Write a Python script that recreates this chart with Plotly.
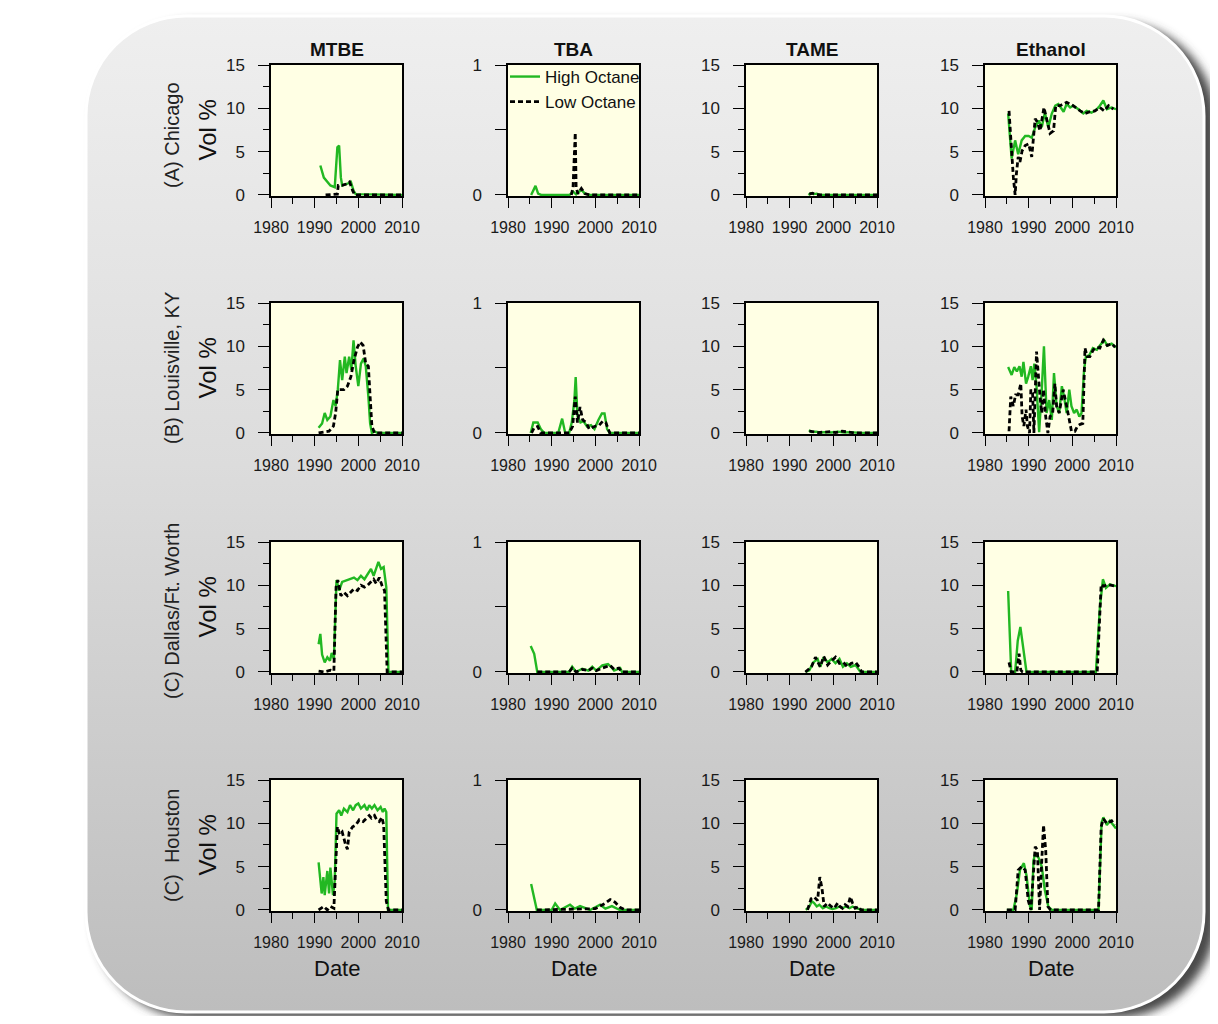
import base64
import plotly.graph_objects as go

# ---------------- DATA ----------------
COLUMNS = ["MTBE", "TBA", "TAME", "Ethanol"]
ROWS = ["(A) Chicago", "(B) Louisville, KY", "(C) Dallas/Ft. Worth", "(C)  Houston"]
X_TICKS = [1980, 1990, 2000, 2010]
Y_TICKS = [0, 5, 10, 15]
TBA_TICKS = [0, 0.5, 1]
TBA_TICKTEXT = ["0", "", "1"]

# Chicago
chi_mtbe_hi_x = [1991.3, 1992.1, 1993.6, 1994.6, 1995.2, 1995.6, 1996.0, 1996.3, 1997.5, 1998.3, 1998.9, 1999.4, 2010]
chi_mtbe_hi_y = [3.4, 2.0, 1.1, 0.9, 5.5, 5.7, 2.0, 1.1, 1.3, 1.5, 0.5, 0.1, 0.0]
chi_mtbe_lo_x = [1992.5, 1995.2, 1995.4, 1996.3, 1997.5, 1998.0, 1998.7, 1999.2, 2010]
chi_mtbe_lo_y = [0.0, 0.1, 1.1, 1.1, 1.3, 1.5, 0.5, 0.0, 0.0]
chi_tba_hi_x = [1985.3, 1985.9, 1986.3, 1986.9, 1987.6, 1994.1, 1994.9, 1995.6, 1996.8, 1997.6, 1998.7, 2010]
chi_tba_hi_y = [0.0, 0.05, 0.07, 0.01, 0.0, 0.0, 0.025, 0.005, 0.04, 0.01, 0.0, 0.0]
chi_tba_lo_x = [1994.5, 1994.9, 1995.4, 1995.6, 1996.0, 1996.8, 1997.6, 1998.7, 2010]
chi_tba_lo_y = [0.0, 0.06, 0.48, 0.06, 0.01, 0.05, 0.01, 0.0, 0.0]
chi_tame_hi_x = [1994.3, 1994.8, 1995.5, 1996.2, 1997.0, 2010]
chi_tame_hi_y = [0.0, 0.2, 0.1, 0.15, 0.0, 0.0]
chi_tame_lo_x = [1994.5, 1995.2, 1996.0, 1997.0, 2010]
chi_tame_lo_y = [0.1, 0.2, 0.05, 0.0, 0.0]
chi_eth_hi_x = [1985.3, 1986.1, 1986.9, 1987.6, 1988.4, 1989.2, 1990.0, 1990.7, 1991.5, 1992.3, 1993.0, 1993.7,
                1994.5, 1995.3, 1996.1, 1996.8, 1998.0, 1998.7, 1999.5, 2000.2, 2001.4, 2002.5, 2003.3, 2004.4,
                2005.6, 2006.3, 2007.1, 2007.9, 2009.0, 2010.0]
chi_eth_hi_y = [9.4, 4.2, 6.3, 4.7, 6.3, 6.8, 6.8, 6.6, 7.8, 8.6, 7.8, 9.5, 7.8, 9.4, 10.3, 10.5, 9.6, 10.5,
                10.1, 10.3, 9.9, 9.4, 9.7, 9.5, 9.9, 10.3, 10.9, 9.9, 10.1, 9.9]
chi_eth_lo_x = [1985.5, 1986.1, 1986.5, 1986.9, 1987.2, 1987.6, 1988.0, 1988.5, 1989.2, 1990.0, 1990.7, 1991.5,
                1992.0, 1992.6, 1993.5, 1994.2, 1994.9, 1995.7, 1996.2, 1997.2, 1998.7, 2000.2, 2001.8, 2002.9,
                2004.0, 2005.2, 2006.3, 2007.3, 2008.3, 2009.4]
chi_eth_lo_y = [9.7, 4.4, 2.0, 0.0, 2.5, 4.4, 3.8, 5.1, 5.7, 5.9, 4.4, 8.8, 8.4, 7.4, 10.1, 8.6, 7.1, 7.4,
                10.3, 10.3, 10.7, 10.3, 9.7, 9.4, 9.6, 9.7, 10.1, 9.7, 10.3, 9.9]

# Louisville
lou_mtbe_hi_x = [1990.9, 1991.7, 1992.3, 1992.9, 1993.6, 1994.3, 1994.8, 1995.3, 1995.8, 1996.3, 1996.9, 1997.3,
                 1997.9, 1998.4, 1998.9, 1999.4, 2000.0, 2000.6, 2001.2, 2001.7, 2002.3, 2002.7, 2003.1, 2003.7,
                 2004.4, 2010]
lou_mtbe_hi_y = [0.6, 1.1, 2.3, 1.5, 1.9, 3.8, 3.1, 5.0, 8.4, 6.1, 8.8, 6.9, 8.8, 7.3, 10.7, 7.7, 5.4, 8.0,
                 8.6, 7.7, 4.2, 1.1, 0.0, 0.2, 0.0, 0.0]
lou_mtbe_lo_x = [1990.9, 1993.3, 1994.3, 1994.8, 1995.3, 1996.7, 1997.5, 1998.3, 1999.0, 1999.8, 2000.4, 2001.1,
                 2001.7, 2002.3, 2002.7, 2003.1, 2003.7, 2010]
lou_mtbe_lo_y = [0.0, 0.2, 0.8, 2.3, 5.0, 5.0, 5.4, 6.5, 8.4, 9.9, 10.5, 10.1, 8.0, 7.7, 4.2, 0.8, 0.0, 0.0]
lou_tba_hi_x = [1985.2, 1985.8, 1986.8, 1987.5, 1988.3, 1991.5, 1992.4, 1993.1, 1994.0, 1994.6, 1995.2, 1995.5,
                1995.9, 1996.6, 1997.3, 1998.1, 1999.0, 1999.8, 2000.7, 2001.5, 2002.1, 2002.7, 2003.3, 2010]
lou_tba_hi_y = [0.0, 0.08, 0.08, 0.03, 0.0, 0.0, 0.11, 0.0, 0.0, 0.08, 0.25, 0.43, 0.13, 0.08, 0.09, 0.05,
                0.06, 0.03, 0.1, 0.15, 0.15, 0.03, 0.0, 0.0]
lou_tba_lo_x = [1985.4, 1986.0, 1986.8, 1987.5, 1994.0, 1994.8, 1995.4, 1995.9, 1996.5, 1997.1, 1997.9, 1998.6,
                1999.8, 2000.9, 2001.7, 2002.4, 2003.3, 2010]
lou_tba_lo_y = [0.0, 0.04, 0.05, 0.0, 0.0, 0.05, 0.28, 0.08, 0.2, 0.1, 0.08, 0.03, 0.05, 0.06, 0.09, 0.08, 0.0, 0.0]
lou_tame_hi_x = [1994.4, 1995.0, 1996.0, 1997.0, 1998.0, 1999.5, 2001.0, 2002.5, 2004.0, 2006.0, 2010]
lou_tame_hi_y = [0.3, 0.1, 0.15, 0.05, 0.1, 0.05, 0.15, 0.05, 0.1, 0.0, 0.0]
lou_tame_lo_x = [1994.5, 1995.5, 1996.5, 1998.0, 1999.5, 2000.5, 2002.0, 2003.5, 2005.0, 2010]
lou_tame_lo_y = [0.2, 0.1, 0.05, 0.1, 0.15, 0.05, 0.2, 0.1, 0.0, 0.0]
lou_eth_hi_x = [1985.3, 1986.1, 1986.7, 1987.3, 1987.9, 1988.4, 1988.8, 1989.4, 1989.9, 1990.5, 1990.9, 1991.3,
                1991.8, 1992.4, 1993.0, 1993.5, 1994.1, 1994.7, 1995.3, 1995.8, 1996.4, 1997.0, 1997.6, 1998.1,
                1998.7, 1999.3, 1999.8, 2000.4, 2001.0, 2001.6, 2002.1, 2002.7, 2003.1, 2003.9, 2004.7, 2005.6,
                2006.3, 2007.3, 2008.0, 2009.0, 2010.0]
lou_eth_hi_y = [7.6, 6.7, 7.6, 7.1, 7.7, 6.5, 8.2, 5.7, 6.5, 7.7, 6.1, 8.0, 5.4, 0.1, 5.0, 10.0, 2.3, 3.8, 1.5,
                6.9, 3.1, 2.3, 5.4, 4.2, 2.3, 5.0, 3.1, 2.3, 2.7, 1.9, 2.3, 7.3, 8.8, 9.0, 9.8, 9.6, 10.1, 10.7,
                10.1, 10.3, 9.9]
lou_eth_lo_x = [1985.5, 1985.9, 1986.5, 1987.0, 1987.6, 1988.2, 1988.5, 1988.9, 1989.4, 1989.7, 1990.2, 1990.5,
                1990.9, 1991.2, 1991.8, 1992.2, 1992.6, 1993.0, 1993.4, 1993.9, 1994.4, 1994.9, 1995.5, 1996.0,
                1996.4, 1997.0, 1997.6, 1997.9, 1998.7, 1999.3, 1999.8, 2000.6, 2001.2, 2001.8, 2002.4, 2002.9,
                2003.4, 2004.0, 2004.8, 2005.6, 2006.3, 2007.1, 2008.0, 2009.0, 2009.8]
lou_eth_lo_y = [0.2, 4.2, 3.1, 4.4, 4.4, 5.7, 1.9, 0.8, 2.7, 0.8, 0.0, 5.0, 4.6, 0.0, 9.4, 6.1, 4.2, 2.3, 5.0,
                1.9, 0.0, 1.9, 2.3, 5.7, 3.1, 2.3, 4.2, 5.0, 3.1, 1.3, 0.2, 0.2, 0.8, 1.0, 1.1, 9.8, 8.8, 8.8,
                9.6, 9.9, 9.8, 10.7, 10.1, 10.3, 9.9]

# Dallas / Ft. Worth
dal_mtbe_hi_x = [1990.9, 1991.3, 1991.7, 1992.3, 1992.9, 1993.5, 1993.9, 1994.4, 1995.0, 1995.6, 1996.3, 1997.5,
                 1998.3, 1999.0, 1999.8, 2000.6, 2001.4, 2002.1, 2002.9, 2003.5, 2004.1, 2004.6, 2005.2, 2005.8,
                 2006.4, 2006.9, 2010]
dal_mtbe_hi_y = [3.2, 4.4, 2.0, 1.1, 1.7, 1.3, 2.2, 1.5, 10.6, 9.4, 10.4, 10.6, 10.7, 10.9, 10.6, 11.1, 10.7,
                 11.3, 11.9, 11.1, 12.1, 12.7, 11.9, 12.1, 9.8, 0.0, 0.0]
dal_mtbe_lo_x = [1990.9, 1992.1, 1993.6, 1994.4, 1994.9, 1995.3, 1996.0, 1996.7, 1997.5, 1998.3, 1999.0, 1999.8,
                 2000.6, 2001.4, 2002.1, 2002.9, 2003.5, 2004.1, 2004.8, 2005.4, 2006.0, 2006.6, 2010]
dal_mtbe_lo_y = [0.1, 0.0, 0.2, 0.1, 9.8, 10.6, 8.8, 9.2, 8.8, 9.2, 9.6, 9.4, 10.0, 9.8, 10.0, 10.4, 10.7, 10.2,
                 10.9, 10.0, 9.4, 0.0, 0.0]
dal_tba_hi_x = [1985.2, 1986.0, 1986.7, 1994.0, 1994.7, 1995.6, 1997.0, 1998.4, 1999.3, 2000.2, 2001.6, 2002.9,
                2003.6, 2004.3, 2005.7, 2006.1, 2010]
dal_tba_hi_y = [0.2, 0.14, 0.0, 0.0, 0.04, 0.0, 0.025, 0.01, 0.04, 0.01, 0.05, 0.06, 0.04, 0.01, 0.03, 0.0, 0.0]
dal_tba_lo_x = [1986.7, 1994.0, 1994.7, 1995.6, 1997.0, 1998.4, 1999.3, 2000.2, 2001.6, 2003.4, 2004.3, 2005.4,
                2006.1, 2010]
dal_tba_lo_y = [0.0, 0.0, 0.03, 0.0, 0.02, 0.01, 0.03, 0.01, 0.03, 0.05, 0.02, 0.03, 0.0, 0.0]
dal_tame_hi_x = [1993.6, 1994.5, 1995.4, 1996.4, 1997.0, 1997.8, 1998.7, 1999.6, 2000.5, 2001.4, 2002.2, 2003.1,
                 2004.0, 2005.1, 2006.2, 2010]
dal_tame_hi_y = [0.0, 0.2, 1.1, 1.5, 0.6, 1.7, 1.1, 1.5, 1.0, 1.5, 0.6, 1.0, 0.6, 0.8, 0.0, 0.0]
dal_tame_lo_x = [1993.6, 1995.0, 1995.9, 1997.0, 1997.8, 1998.7, 1999.6, 2000.5, 2001.4, 2002.3, 2003.2, 2004.1,
                 2005.1, 2006.0, 2006.5, 2010]
dal_tame_lo_y = [0.0, 0.6, 1.7, 0.6, 1.8, 0.8, 1.3, 1.7, 1.0, 1.1, 0.6, 1.0, 1.1, 0.5, 0.0, 0.0]
dal_eth_hi_x = [1985.3, 1986.0, 1986.9, 1987.5, 1988.1, 1988.8, 1989.5, 2005.4, 2006.3, 2007.0, 2007.7, 2008.6, 2010.0]
dal_eth_hi_y = [9.35, 0.0, 0.0, 3.6, 5.2, 2.5, 0.0, 0.0, 7.4, 10.7, 9.7, 10.1, 9.9]
dal_eth_lo_x = [1985.5, 1986.0, 1987.3, 1987.8, 1988.2, 1988.6, 2005.7, 2006.6, 2007.2, 2008.1, 2010.0]
dal_eth_lo_y = [1.1, 0.0, 0.0, 2.1, 0.2, 0.0, 0.0, 10.1, 9.9, 10.1, 9.9]

# Houston
hou_mtbe_hi_x = [1990.9, 1991.6, 1992.0, 1992.3, 1992.9, 1993.3, 1993.6, 1994.2, 1994.6, 1995.0, 1995.6, 1996.1,
                 1996.7, 1997.5, 1998.1, 1998.8, 1999.4, 2000.0, 2000.6, 2001.4, 2002.0, 2002.5, 2003.1, 2003.7,
                 2004.4, 2005.1, 2005.6, 2006.0, 2006.4, 2006.8, 2010]
hou_mtbe_hi_y = [5.5, 1.9, 3.8, 1.7, 4.5, 1.9, 4.9, 1.7, 3.4, 11.1, 11.5, 10.9, 11.7, 11.3, 12.1, 11.5, 12.1,
                 12.3, 11.7, 12.1, 11.5, 12.1, 11.7, 12.1, 11.5, 11.9, 11.3, 11.7, 11.3, 0.0, 0.0]
hou_mtbe_lo_x = [1990.9, 1992.1, 1992.9, 1993.6, 1994.4, 1994.8, 1995.2, 1995.7, 1996.3, 1997.1, 1997.5, 1997.9,
                 1998.7, 1999.4, 2000.2, 2001.1, 2001.8, 2002.5, 2003.0, 2003.7, 2004.2, 2004.8, 2005.4, 2005.8,
                 2006.4, 2006.9, 2010]
hou_mtbe_lo_y = [0.0, 0.4, 0.0, 0.4, 0.2, 5.7, 9.6, 8.7, 9.0, 7.5, 7.0, 9.0, 9.6, 9.8, 10.4, 10.2, 10.6, 10.9,
                 10.6, 10.9, 10.4, 10.2, 10.7, 9.8, 1.0, 0.0, 0.0]
hou_tba_hi_x = [1985.3, 1986.6, 1990.0, 1990.8, 1991.9, 1994.2, 1995.3, 1996.5, 1998.8, 2001.1, 2002.3, 2003.8,
                2005.6, 2010]
hou_tba_hi_y = [0.2, 0.0, 0.0, 0.05, 0.0, 0.04, 0.01, 0.03, 0.0, 0.04, 0.01, 0.03, 0.0, 0.0]
hou_tba_lo_x = [1986.6, 2000.0, 2002.2, 2003.4, 2004.5, 2005.6, 2006.8, 2010]
hou_tba_lo_y = [0.0, 0.01, 0.05, 0.08, 0.06, 0.02, 0.0, 0.0]
hou_tame_hi_x = [1993.7, 1994.5, 1995.1, 1995.6, 1996.2, 1996.8, 1997.6, 1998.3, 1999.1, 1999.8, 2000.6, 2001.4,
                 2002.1, 2002.9, 2003.7, 2004.4, 2005.2, 2006.0, 2006.7, 2010]
hou_tame_hi_y = [0.0, 0.4, 1.0, 0.8, 0.4, 0.6, 0.2, 0.4, 0.2, 0.1, 0.2, 0.4, 0.2, 0.4, 0.2, 0.4, 0.2, 0.1, 0.0, 0.0]
hou_tame_lo_x = [1994.1, 1994.9, 1995.6, 1996.4, 1996.9, 1997.4, 1997.9, 1998.7, 1999.5, 2000.2, 2001.0, 2001.5,
                 2002.1, 2002.7, 2003.3, 2003.9, 2004.4, 2005.0, 2005.8, 2006.3, 2010]
hou_tame_lo_y = [0.0, 1.3, 1.5, 1.1, 3.8, 2.5, 0.4, 0.8, 0.4, 0.2, 0.8, 0.4, 0.2, 0.6, 0.4, 1.5, 0.8, 0.2, 0.4,
                 0.0, 0.0]
hou_eth_hi_x = [1985.0, 1986.5, 1987.3, 1988.0, 1988.9, 1989.5, 1990.3, 1990.7, 1991.1, 1991.5, 1992.2, 1993.0,
                1993.7, 1994.5, 1995.3, 2006.0, 2006.7, 2007.1, 2007.9, 2008.6, 2010.0]
hou_eth_hi_y = [0.0, 0.0, 1.9, 4.6, 5.4, 4.0, 0.4, 0.0, 5.7, 6.5, 6.1, 5.0, 2.3, 0.4, 0.0, 0.0, 10.1, 10.7, 9.8,
                10.3, 9.4]
hou_eth_lo_x = [1985.0, 1986.9, 1987.6, 1988.4, 1989.2, 1989.9, 1990.5, 1991.1, 1991.5, 1992.0, 1992.5, 1993.0,
                1993.4, 1993.9, 1994.4, 1995.0, 2006.0, 2006.6, 2007.1, 2007.9, 2009.0, 2009.7]
hou_eth_lo_y = [0.0, 0.0, 4.6, 5.0, 4.6, 1.1, 0.0, 4.6, 7.3, 6.9, 0.0, 5.7, 9.8, 6.9, 0.4, 0.0, 0.0, 9.6, 10.5,
                10.0, 10.3, 9.8]

PANELS = [
    [(chi_mtbe_hi_x, chi_mtbe_hi_y, chi_mtbe_lo_x, chi_mtbe_lo_y),
     (chi_tba_hi_x, chi_tba_hi_y, chi_tba_lo_x, chi_tba_lo_y),
     (chi_tame_hi_x, chi_tame_hi_y, chi_tame_lo_x, chi_tame_lo_y),
     (chi_eth_hi_x, chi_eth_hi_y, chi_eth_lo_x, chi_eth_lo_y)],
    [(lou_mtbe_hi_x, lou_mtbe_hi_y, lou_mtbe_lo_x, lou_mtbe_lo_y),
     (lou_tba_hi_x, lou_tba_hi_y, lou_tba_lo_x, lou_tba_lo_y),
     (lou_tame_hi_x, lou_tame_hi_y, lou_tame_lo_x, lou_tame_lo_y),
     (lou_eth_hi_x, lou_eth_hi_y, lou_eth_lo_x, lou_eth_lo_y)],
    [(dal_mtbe_hi_x, dal_mtbe_hi_y, dal_mtbe_lo_x, dal_mtbe_lo_y),
     (dal_tba_hi_x, dal_tba_hi_y, dal_tba_lo_x, dal_tba_lo_y),
     (dal_tame_hi_x, dal_tame_hi_y, dal_tame_lo_x, dal_tame_lo_y),
     (dal_eth_hi_x, dal_eth_hi_y, dal_eth_lo_x, dal_eth_lo_y)],
    [(hou_mtbe_hi_x, hou_mtbe_hi_y, hou_mtbe_lo_x, hou_mtbe_lo_y),
     (hou_tba_hi_x, hou_tba_hi_y, hou_tba_lo_x, hou_tba_lo_y),
     (hou_tame_hi_x, hou_tame_hi_y, hou_tame_lo_x, hou_tame_lo_y),
     (hou_eth_hi_x, hou_eth_hi_y, hou_eth_lo_x, hou_eth_lo_y)],
]

# ---------------- LAYOUT (pixel geometry, in window pixels) ----------------
PAGE_MARGIN = 8                    # default <body> margin of the html page
W, H = 1218 - PAGE_MARGIN, 1024 - 2 * PAGE_MARGIN
COL_LEFT = [271, 508, 746, 985]
ROW_TOP = [65, 303, 542, 780]
ROW_LABEL_Y = [135, 368, 611, 845]
PW, PH = 131, 131
FONT = "Liberation Sans, Arial, sans-serif"
GREEN = "#22B822"
PLOT_BG = "#FFFFE4"

def px_x(p):
    return (p - PAGE_MARGIN) / W

def px_y(p):
    return 1 - (p - PAGE_MARGIN) / H

fig = go.Figure()
shapes = []

for r in range(4):
    for c in range(4):
        idx = r * 4 + c + 1
        xa = "x" if idx == 1 else f"x{idx}"
        ya = "y" if idx == 1 else f"y{idx}"
        hx, hy, lx, ly = PANELS[r][c]
        first = (r == 0 and c == 0)
        fig.add_trace(go.Scatter(x=hx, y=hy, mode="lines", name="High Octane",
                                 line=dict(color=GREEN, width=2.4), xaxis=xa, yaxis=ya,
                                 legendgroup="hi", showlegend=first, hoverinfo="skip"))
        fig.add_trace(go.Scatter(x=lx, y=ly, mode="lines", name="Low Octane",
                                 line=dict(color="black", width=2.8, dash="5px,3px"), xaxis=xa, yaxis=ya,
                                 legendgroup="lo", showlegend=first, hoverinfo="skip"))
        xkey = "xaxis" if idx == 1 else f"xaxis{idx}"
        ykey = "yaxis" if idx == 1 else f"yaxis{idx}"
        left = COL_LEFT[c]
        top = ROW_TOP[r]
        is_tba = (c == 1)
        fig.layout[xkey] = dict(
            domain=[px_x(left), px_x(left + PW)], anchor=ya, range=[1980, 2010],
            tickvals=X_TICKS, ticks="outside", ticklen=10, tickwidth=1.3, tickcolor="black",
            minor=dict(tickvals=[1985, 1995, 2005], ticks="outside", ticklen=6, tickwidth=1.3, tickcolor="black"),
            showline=True, linecolor="black", linewidth=1.5, mirror=True,
            showgrid=False, zeroline=False, layer="below traces",
            tickfont=dict(family=FONT, size=16, color="#1a1a1a"), ticklabelstandoff=6,
            fixedrange=True)
        if is_tba:
            yrange = [-0.008, 1]
            ydict = dict(tickvals=TBA_TICKS, ticktext=TBA_TICKTEXT)
        else:
            yrange = [-0.12, 15]
            ydict = dict(tickvals=Y_TICKS,
                         minor=dict(tickvals=[2.5, 7.5, 12.5], ticks="outside", ticklen=6, tickwidth=1.3,
                                    tickcolor="black"))
        fig.layout[ykey] = dict(
            domain=[px_y(top + PH), px_y(top)], anchor=xa, range=yrange,
            ticks="outside", ticklen=11, tickwidth=1.3, tickcolor="black",
            showline=True, linecolor="black", linewidth=1.5, mirror=True,
            showgrid=False, zeroline=False, layer="below traces",
            tickfont=dict(family=FONT, size=17, color="#1a1a1a"), ticklabelstandoff=10,
            fixedrange=True, **ydict)
        # light-yellow plotting area, drawn above the page background image
        shapes.append(dict(type="rect", xref=f"{xa} domain", yref=f"{ya} domain", x0=0, x1=1, y0=0, y1=1,
                           fillcolor=PLOT_BG, line=dict(width=0), layer="below"))

annotations = []
for c, name in enumerate(COLUMNS):
    cx = COL_LEFT[c] + PW / 2
    annotations.append(dict(text=f"<b>{name}</b>", x=px_x(cx), y=px_y(50), xref="paper", yref="paper",
                            showarrow=False, font=dict(family=FONT, size=19, color="#111"),
                            xanchor="center", yanchor="middle"))
    annotations.append(dict(text="Date", x=px_x(cx), y=px_y(968), xref="paper", yref="paper",
                            showarrow=False, font=dict(family=FONT, size=22, color="#111"),
                            xanchor="center", yanchor="middle"))
for r, name in enumerate(ROWS):
    cy = ROW_TOP[r] + PH / 2
    annotations.append(dict(text=name, x=px_x(172), y=px_y(ROW_LABEL_Y[r]), xref="paper", yref="paper",
                            showarrow=False, textangle=-90, font=dict(family=FONT, size=20, color="#222"),
                            xanchor="center", yanchor="middle"))
    annotations.append(dict(text="Vol %", x=px_x(207), y=px_y(cy), xref="paper", yref="paper",
                            showarrow=False, textangle=-90, font=dict(family=FONT, size=24, color="#111"),
                            xanchor="center", yanchor="middle"))

# page background: grey gradient rounded panel with a soft shadow (figure pixel coords)
ox = PAGE_MARGIN
svg = f'''<svg xmlns="http://www.w3.org/2000/svg" width="{W}" height="{H}" viewBox="0 0 {W} {H}">
<defs>
<linearGradient id="g" x1="0" y1="0" x2="0" y2="1">
<stop offset="0" stop-color="#efefef"/>
<stop offset="0.45" stop-color="#dcdcdc"/>
<stop offset="1" stop-color="#bdbdbd"/>
</linearGradient>
<filter id="b" x="-10%" y="-10%" width="120%" height="120%"><feGaussianBlur stdDeviation="5"/></filter>
</defs>
<rect width="{W}" height="{H}" fill="#ffffff"/>
<rect x="{94 - ox}" y="{22 - ox}" width="1122" height="996" rx="100" fill="#4a4a4a" filter="url(#b)"/>
<rect x="{86 - ox}" y="{16 - ox}" width="1118" height="996" rx="100" fill="url(#g)" stroke="#ffffff" stroke-width="3"/>
</svg>'''
src = "data:image/svg+xml;base64," + base64.b64encode(svg.encode()).decode()

fig.update_layout(
    width=W, height=H, margin=dict(l=0, r=0, t=0, b=0, pad=0, autoexpand=False),
    paper_bgcolor="white", plot_bgcolor=PLOT_BG,
    annotations=annotations, shapes=shapes,
    images=[dict(source=src, xref="paper", yref="paper", x=0, y=1, sizex=1, sizey=1,
                 xanchor="left", yanchor="top", sizing="stretch", layer="below")],
    showlegend=True,
    legend=dict(x=px_x(505), y=px_y(59), xanchor="left", yanchor="top", bgcolor="rgba(0,0,0,0)",
                font=dict(family=FONT, size=17, color="#111"), itemwidth=30, tracegroupgap=0),
)

fig.write_html("out.html")
